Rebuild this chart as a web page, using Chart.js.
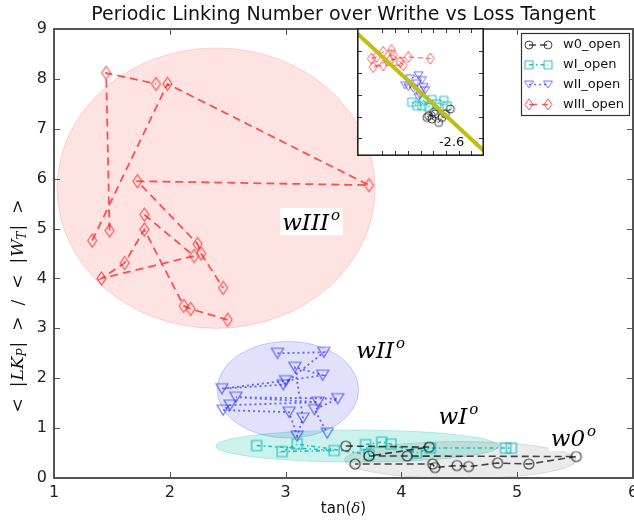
<!DOCTYPE html>
<html><head><meta charset="utf-8">
<script src="https://cdn.jsdelivr.net/npm/chart.js@4.4.0/dist/chart.umd.min.js"></script>
<style>
html,body{margin:0;padding:0;background:#fff;}
#wrap{position:relative;width:634px;height:523px;overflow:hidden;}
#main{position:absolute;left:0;top:0;}
#inset{position:absolute;left:357px;top:28px;}
</style></head><body>
<div id="wrap"><canvas id="main" width="634" height="523"></canvas><canvas id="inset" width="127" height="128"></canvas></div>
<script>
// ---------- data ----------
const seriesNames = ['w0_open','wI_open','wII_open','wIII_open'];
const xTicks = [1,2,3,4,5,6];
const yTicks = [0,1,2,3,4,5,6,7,8,9];

const w0X = [3.52,4.24,3.72,4.05,5.51,5.10,4.83,4.58,4.48,4.29,4.27,3.60];
const w0Y = [0.64,0.62,0.44,0.44,0.43,0.28,0.30,0.23,0.25,0.21,0.28,0.28];

const wIX = [2.75,3.42,2.97,3.10,3.72,3.69,3.83,3.91,4.13,4.25,4.90,4.95];
const wIY = [0.65,0.55,0.53,0.68,0.47,0.67,0.72,0.68,0.50,0.60,0.60,0.60];

const wIIX = [2.93,3.33,2.98,2.45,3.00,3.32,3.08,3.15,3.10,3.03,2.46,2.52,3.28,2.57,3.45,3.25,3.36];
const wIIY = [2.50,2.52,1.87,1.79,1.95,2.06,2.22,1.20,0.84,1.32,1.36,1.46,1.52,1.62,1.59,1.37,0.90];

// null marks a break in the traced path
const wIIIX = [1.48,1.45,1.88,null,1.33,1.98,3.72,1.72,2.24,2.27,2.46,null,1.78,2.21,1.41,1.61,1.78,2.12,2.18,2.50];
const wIIIY = [4.96,8.12,7.90,null,4.76,7.90,5.87,5.95,4.69,4.50,3.81,null,5.28,4.45,4.00,4.31,4.98,3.45,3.39,3.17];

// group ellipses (centre / half-axes, data units)
const ellCX = [2.40,3.02,3.62,4.51];
const ellCY = [5.81,1.77,0.64,0.36];
const ellRX = [1.373,0.611,1.222,1.00];
const ellRY = [2.81,0.97,0.32,0.37];

const groupLabels = ['wIII','wII','wI','w0'];
const groupLabelX = [2.97,3.61,4.32,5.29];
const groupLabelY = [4.97,2.40,1.08,0.64];

// inset (arbitrary units)
const insetXTicks = [2,3,4,5,6,7,8,9];
const insetYTicks = [1,2,3,4,5];
const insW3X = [1.14,1.53,2.06,2.72,2.86,3.39,3.65,2.06,1.27,2.59,4.05,5.77];
const insW3Y = [4.65,4.73,4.96,5.04,4.81,4.50,4.35,4.35,4.27,4.58,4.73,4.65];
const insW2X = [3.78,4.18,4.84,5.11,4.71,4.44,4.05,5.24,5.37,4.97,4.84];
const insW2Y = [3.43,3.74,3.89,3.66,3.51,3.28,3.35,3.35,3.20,2.97,2.89];
const insW1X = [4.31,4.71,5.11,5.24,5.63,5.90,6.30,6.83,7.09];
const insW1Y = [2.66,2.50,2.50,2.74,2.43,2.78,2.58,2.74,2.50];
const insW0X = [5.50,5.63,6.03,6.16,5.90,6.43,6.69,6.96,7.35];
const insW0Y = [1.96,2.04,2.20,2.12,1.89,1.73,1.96,2.12,2.35];
const insFitX = [0,10];
const insFitY = [5.81,0.43];
const insFitLabel = '-2.6';

// ---------- styles ----------
const COL = {
  w0:'rgba(0,0,0,0.72)', wI:'rgba(0,185,185,0.85)', wII:'rgba(30,30,255,0.65)', wIII:'rgba(255,20,20,0.72)'
};
function mk(shape,w,h,color,lw){
  const c=document.createElement('canvas');
  c.width=w+4; c.height=h+4;
  const g=c.getContext('2d');
  g.strokeStyle=color; g.lineWidth=lw; g.translate(c.width/2,c.height/2);
  g.beginPath();
  if(shape==='circle') g.arc(0,0,w/2,0,2*Math.PI);
  else if(shape==='square') g.rect(-w/2,-h/2,w,h);
  else if(shape==='tri'){g.moveTo(-w/2,-h/2);g.lineTo(w/2,-h/2);g.lineTo(0,h/2);g.closePath();}
  else {g.moveTo(0,-h/2);g.lineTo(w/2,0);g.lineTo(0,h/2);g.lineTo(-w/2,0);g.closePath();}
  g.stroke();
  return c;
}
const M = {
  w0: mk('circle',10,10,COL.w0,1.2), wI: mk('square',10,10,COL.wI,1.2),
  wII: mk('tri',12,10,COL.wII,1.2), wIII: mk('diamond',9,13,COL.wIII,1.2)
};
const MS = {
  w0: mk('circle',8,8,COL.w0,1), wI: mk('square',8,8,COL.wI,1),
  wII: mk('tri',9,7,COL.wII,1), wIII: mk('diamond',8,11,COL.wIII,1)
};
const DASH = {w0:[7,4], wI:[4,3,1.5,3], wII:[2,3], wIII:[8,5]};

function pts(xs,ys){ return xs.map((x,i)=>({x:x, y:ys[i]})); }
function ds(key,label,xs,ys,markers,lw){
  return {label, data:pts(xs,ys), showLine:true, borderColor:COL[key], borderWidth:lw,
    borderDash:DASH[key], pointStyle:markers[key], pointRadius:6, backgroundColor:'rgba(0,0,0,0)',
    fill:false, tension:0, spanGaps:false};
}

// ---------- main chart ----------
function drawPieces(ctx,pieces,x,y,align){
  let total=measurePieces(ctx,pieces);
  let cx = align==='center'? x-total/2 : x;
  pieces.forEach(p=>{ctx.font=p[1]; ctx.fillText(p[0],cx,y+(p[2]||0)); cx+=ctx.measureText(p[0]).width+(p[3]||0);});
  return total;
}
function measurePieces(ctx,pieces){let t=0;pieces.forEach(p=>{ctx.font=p[1];t+=ctx.measureText(p[0]).width+(p[3]||0);});return t;}

const ELL_FILL = ['rgba(255,0,0,0.11)','rgba(40,40,230,0.14)','rgba(0,190,165,0.20)','rgba(0,0,0,0.08)'];
const ELL_EDGE = ['rgba(255,0,0,0.16)','rgba(40,40,230,0.20)','rgba(0,190,165,0.25)','rgba(0,0,0,0.12)'];

const mainPlugin = {
  id:'mainDeco',
  beforeDatasetsDraw(chart){
    const {ctx,chartArea:a,scales:{x,y}}=chart;
    ctx.save(); ctx.beginPath(); ctx.rect(a.left,a.top,a.right-a.left,a.bottom-a.top); ctx.clip();
    for(let i=0;i<ellCX.length;i++){
      const cx=x.getPixelForValue(ellCX[i]), cy=y.getPixelForValue(ellCY[i]);
      const rx=Math.abs(x.getPixelForValue(ellCX[i]+ellRX[i])-cx);
      const ry=Math.abs(y.getPixelForValue(ellCY[i]+ellRY[i])-cy);
      ctx.beginPath(); ctx.ellipse(cx,cy,rx,ry,0,0,2*Math.PI);
      ctx.fillStyle=ELL_FILL[i]; ctx.fill(); ctx.strokeStyle=ELL_EDGE[i]; ctx.lineWidth=1; ctx.stroke();
    }
    ctx.restore();
  },
  afterDatasetsDraw(chart){
    const {ctx,scales:{x,y}}=chart;
    ctx.save();
    ctx.textBaseline='alphabetic'; ctx.textAlign='left';
    for(let i=0;i<groupLabels.length;i++){
      const px=x.getPixelForValue(groupLabelX[i]), py=y.getPixelForValue(groupLabelY[i]);
      const pieces=[[groupLabels[i],'italic 23px "DejaVu Serif"',0,2],['o','italic 15px "DejaVu Serif"',-10]];
      const w=measurePieces(ctx,pieces);
      ctx.fillStyle='#fff'; ctx.fillRect(px-2,py-22,w+5,27);
      ctx.fillStyle='#000';
      drawPieces(ctx,pieces,px,py,'left');
    }
    ctx.restore();
  },
  afterDraw(chart){
    const {ctx,chartArea:a,scales:{x,y}}=chart;
    ctx.save();
    // inward ticks
    ctx.strokeStyle='#555'; ctx.lineWidth=1;
    x.ticks.forEach(t=>{ if(t.value<=x.min||t.value>=x.max) return; const p=Math.round(x.getPixelForValue(t.value))+0.5;
      ctx.beginPath(); ctx.moveTo(p,a.bottom); ctx.lineTo(p,a.bottom-6); ctx.moveTo(p,a.top); ctx.lineTo(p,a.top+6); ctx.stroke();});
    y.ticks.forEach(t=>{ if(t.value<=y.min||t.value>=y.max) return; const p=Math.round(y.getPixelForValue(t.value))+0.5;
      ctx.beginPath(); ctx.moveTo(a.left,p); ctx.lineTo(a.left+6,p); ctx.moveTo(a.right,p); ctx.lineTo(a.right-6,p); ctx.stroke();});
    // frame
    ctx.strokeStyle='#555'; ctx.lineWidth=2;
    ctx.strokeRect(a.left,a.top,a.right-a.left,a.bottom-a.top);
    // title
    ctx.fillStyle='#111'; ctx.textAlign='center'; ctx.textBaseline='middle';
    ctx.font='19px "DejaVu Sans"';
    ctx.fillText('Periodic Linking Number over Writhe vs Loss Tangent',(a.left+a.right)/2,15);
    // x title
    ctx.textAlign='left'; ctx.textBaseline='middle';
    drawPieces(ctx,[['tan(','15px "DejaVu Sans"'],['\u03b4','italic 15px "DejaVu Serif"'],[')','15px "DejaVu Sans"']],(a.left+a.right)/2,509,'center');
    // y title (rotated)
    ctx.translate(19,306); ctx.rotate(-Math.PI/2);
    const R='17px "DejaVu Serif"', I='italic 17px "DejaVu Serif"', S='italic 12px "DejaVu Serif"';
    drawPieces(ctx,[['<',R,0,11],['|',R,0,1],['LK',I],['P',S,4,1],['|',R,0,11],['>',R,0,11],['/',R,0,11],['<',R,0,11],['|',R,0,1],['W',I],['T',S,4,1],['|',R,0,11],['>',R]],0,0,'center');
    ctx.restore();
    // legend
    ctx.save();
    const lx=521.5, ly=33.5, lw=108, lh=82;
    ctx.fillStyle='#fff'; ctx.fillRect(lx,ly,lw,lh);
    ctx.strokeStyle='#333'; ctx.lineWidth=1.2; ctx.strokeRect(lx,ly,lw,lh);
    const keys=['w0','wI','wII','wIII'];
    keys.forEach((k,i)=>{
      const yy=45+i*19.8;
      ctx.strokeStyle=COL[k]; ctx.lineWidth=1.5; ctx.setLineDash(DASH[k]);
      ctx.beginPath(); ctx.moveTo(529,yy); ctx.lineTo(548,yy); ctx.stroke(); ctx.setLineDash([]);
      const m=MS[k];
      ctx.drawImage(m,529-m.width/2,yy-m.height/2); ctx.drawImage(m,548-m.width/2,yy-m.height/2);
      ctx.fillStyle='#111'; ctx.font='13px "DejaVu Sans"'; ctx.textAlign='left'; ctx.textBaseline='middle';
      ctx.fillText(seriesNames[i],563,yy);
    });
    ctx.restore();
  }
};

new Chart(document.getElementById('main'),{
  type:'scatter',
  data:{datasets:[
    ds('w0',seriesNames[0],w0X,w0Y,M,1.6),
    ds('wI',seriesNames[1],wIX,wIY,M,1.6),
    ds('wII',seriesNames[2],wIIX,wIIY,M,1.8),
    ds('wIII',seriesNames[3],wIIIX,wIIIY,M,1.8)
  ]},
  options:{
    responsive:false, animation:false, devicePixelRatio:1,
    layout:{autoPadding:false,padding:{top:29,right:1,left:0,bottom:0}},
    plugins:{legend:{display:false},tooltip:{enabled:false},title:{display:false}},
    scales:{
      x:{type:'linear',min:xTicks[0],max:xTicks[xTicks.length-1],
        afterBuildTicks:s=>{s.ticks=xTicks.map(v=>({value:v}));},
        grid:{display:false,drawTicks:false}, border:{display:false},
        ticks:{padding:5,color:'#222',font:{family:'DejaVu Sans',size:16},maxRotation:0,autoSkip:false},
        afterFit:s=>{s.height=45;s.paddingLeft=0;s.paddingRight=0;}},
      y:{type:'linear',min:yTicks[0],max:yTicks[yTicks.length-1],
        afterBuildTicks:s=>{s.ticks=yTicks.map(v=>({value:v}));},
        grid:{display:false,drawTicks:false}, border:{display:false},
        ticks:{padding:7,color:'#222',font:{family:'DejaVu Sans',size:16},autoSkip:false},
        afterFit:s=>{s.width=54;s.paddingTop=0;s.paddingBottom=0;}}
    }
  },
  plugins:[mainPlugin]
});

// ---------- inset ----------
const insetPlugin = {
  id:'insetDeco',
  beforeDraw(chart){ const {ctx,width,height}=chart; ctx.save(); ctx.fillStyle='#fff'; ctx.fillRect(0,0,width,height); ctx.restore(); },
  afterDraw(chart){
    const {ctx,chartArea:a,scales:{x,y}}=chart;
    ctx.save();
    ctx.fillStyle='#111'; ctx.font='13px "DejaVu Sans"'; ctx.textAlign='left'; ctx.textBaseline='middle';
    ctx.fillText(insFitLabel, x.getPixelForValue(6.45), y.getPixelForValue(0.80));
    ctx.strokeStyle='#333'; ctx.lineWidth=1;
    insetXTicks.forEach(v=>{const p=Math.round(x.getPixelForValue(v))+0.5; ctx.beginPath(); ctx.moveTo(p,a.top); ctx.lineTo(p,a.top+5); ctx.moveTo(p,a.bottom); ctx.lineTo(p,a.bottom-5); ctx.stroke();});
    insetYTicks.forEach(v=>{const p=Math.round(y.getPixelForValue(v))+0.5; ctx.beginPath(); ctx.moveTo(a.left,p); ctx.lineTo(a.left+5,p); ctx.moveTo(a.right,p); ctx.lineTo(a.right-5,p); ctx.stroke();});
    ctx.strokeStyle='#222'; ctx.lineWidth=1.6;
    ctx.strokeRect(a.left+0.8,a.top+0.8,a.right-a.left-1.6,a.bottom-a.top-1.6);
    ctx.restore();
  }
};
function ids(key,xs,ys){
  return {data:pts(xs,ys), showLine:true, borderColor:COL[key], borderWidth:1, borderDash:DASH[key].map(v=>v*0.7),
    pointStyle:MS[key], pointRadius:5, backgroundColor:'rgba(0,0,0,0)', fill:false, tension:0};
}
new Chart(document.getElementById('inset'),{
  type:'scatter',
  data:{datasets:[
    {data:pts(insFitX,insFitY), showLine:true, borderColor:'rgb(190,190,20)', borderWidth:4, pointRadius:0, fill:false},
    ids('w0',insW0X,insW0Y), ids('wI',insW1X,insW1Y), ids('wII',insW2X,insW2Y), ids('wIII',insW3X,insW3Y)
  ]},
  options:{
    responsive:false, animation:false, devicePixelRatio:1,
    layout:{autoPadding:false,padding:0},
    plugins:{legend:{display:false},tooltip:{enabled:false}},
    scales:{x:{type:'linear',min:0,max:10,display:false},y:{type:'linear',min:0.2,max:6.05,display:false}}
  },
  plugins:[insetPlugin]
});
</script>
</body></html>
